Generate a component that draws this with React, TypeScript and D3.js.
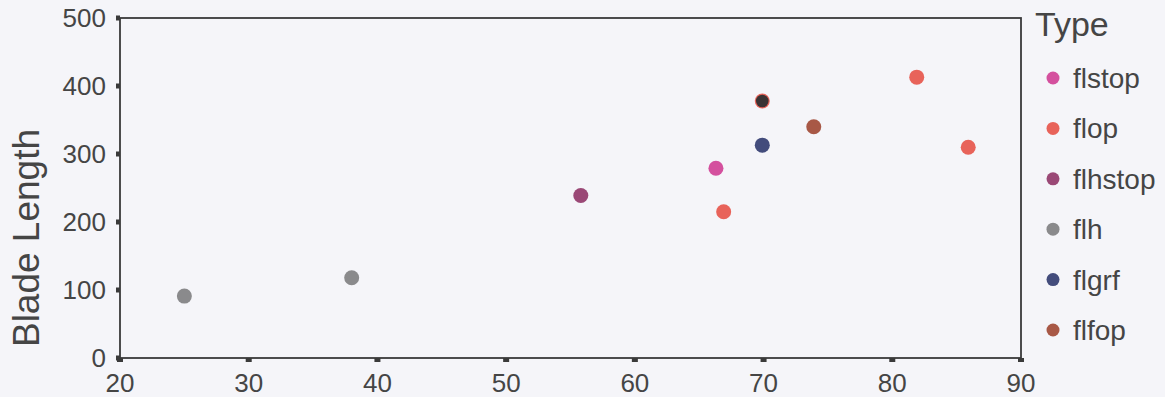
import React from "react";
import * as d3 from "d3";

const types = ["flstop", "flop", "flhstop", "flh", "flgrf", "flfop"];
const typeColors = ["#d4509e", "#e8635a", "#9a4876", "#8a8a8c", "#434c7c", "#a85846"];

const flstopX = [66.3];
const flstopY = [279];
const flopX = [66.9, 69.9, 81.9, 85.9];
const flopY = [215, 378, 413, 310];
const flhstopX = [55.8];
const flhstopY = [239];
const flhX = [25, 38];
const flhY = [91, 118];
const flgrfX = [69.9, 69.9];
const flgrfY = [313, 378];
const flfopX = [73.9];
const flfopY = [340];

const xTicks = [20, 30, 40, 50, 60, 70, 80, 90];
const yTicks = [0, 100, 200, 300, 400, 500];

const W = 1165;
const H = 397;
const m = { left: 120, right: 1021, top: 18, bottom: 358 };

export default function App() {
  const x = d3.scaleLinear().domain([20, 90]).range([m.left, m.right]);
  const y = d3.scaleLinear().domain([0, 500]).range([m.bottom, m.top]);
  const color = d3.scaleOrdinal<string, string>().domain(types).range(typeColors);

  const series: { type: string; xs: number[]; ys: number[] }[] = [
    { type: "flh", xs: flhX, ys: flhY },
    { type: "flhstop", xs: flhstopX, ys: flhstopY },
    { type: "flstop", xs: flstopX, ys: flstopY },
    { type: "flop", xs: flopX, ys: flopY },
    { type: "flfop", xs: flfopX, ys: flfopY },
    { type: "flgrf", xs: flgrfX, ys: flgrfY },
  ];

  const font = "Liberation Sans, Arial, sans-serif";
  const axisColor = "#3a3a3a";
  const textColor = "#454545";
  const legendY = d3.scalePoint<string>().domain(types).range([78, 330]);

  return (
    <svg
      width={W}
      height={H}
      style={{ position: "absolute", left: 0, top: 0, background: "#f5f5f9" }}
      fontFamily={font}
    >
      <rect x={0} y={0} width={W} height={H} fill="#f5f5f9" />
      <rect
        x={m.left}
        y={m.top}
        width={m.right - m.left}
        height={m.bottom - m.top}
        fill="none"
        stroke={axisColor}
        strokeWidth={1.8}
      />
      {yTicks.map((t) => (
        <g key={"y" + t}>
          <rect x={m.left - 4} y={y(t) - 2.5} width={4} height={5} fill={axisColor} />
          <text
            x={106}
            y={y(t)}
            dy="0.36em"
            textAnchor="end"
            fontSize={26}
            fill={textColor}
          >
            {t}
          </text>
        </g>
      ))}
      {xTicks.map((t) => (
        <g key={"x" + t}>
          <rect x={x(t) - 3} y={m.bottom} width={6} height={4} fill={axisColor} />
          <text x={x(t)} y={392} textAnchor="middle" fontSize={26} fill={textColor}>
            {t}
          </text>
        </g>
      ))}
      <text
        transform={`translate(39, 238) rotate(-90)`}
        textAnchor="middle"
        fontSize={37}
        fill={textColor}
      >
        Blade Length
      </text>
      {series.map((s) =>
        s.xs.map((xv, i) => (
          <circle
            key={s.type + i}
            cx={x(xv)}
            cy={y(s.ys[i])}
            r={s.type === "flgrf" && s.ys[i] === 378 ? 6.3 : 7.5}
            fill={s.type === "flgrf" && s.ys[i] === 378 ? "#3a3334" : color(s.type)}
          />
        ))
      )}
      <text x={1035} y={36} fontSize={34} fill={textColor}>
        Type
      </text>
      {types.map((t) => (
        <g key={"l" + t}>
          <circle cx={1053} cy={legendY(t)} r={6.5} fill={color(t)} />
          <text x={1073} y={legendY(t)} dy="0.36em" fontSize={28} fill={textColor}>
            {t}
          </text>
        </g>
      ))}
    </svg>
  );
}
